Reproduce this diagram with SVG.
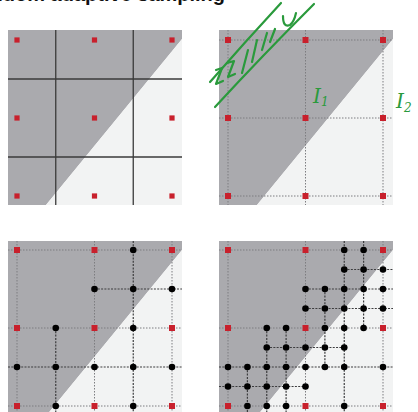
<svg xmlns="http://www.w3.org/2000/svg" xmlns:xlink="http://www.w3.org/1999/xlink" width="418" height="412" viewBox="0 0 418 412">
<defs>
<style>
.dark{fill:#aaaaae}
.light{fill:#f2f3f3}
.solid{stroke:#3a3a3a;stroke-width:1.3;fill:none}
.coarse{stroke:#7d7d80;stroke-width:1;stroke-dasharray:1.5 1.5;fill:none}
.fine{stroke:#3c3c3e;stroke-width:1.2;stroke-dasharray:2 1.3;fill:none}
.ink{stroke:#2a9a3c;stroke-width:2.2;stroke-linecap:round;stroke-linejoin:round;fill:none}
.hand{fill:#2a9a3c;font-family:"DejaVu Serif",serif;font-style:italic}
.title{font-family:"Liberation Sans",Arial,sans-serif;font-weight:bold;font-size:20px;fill:#111}
</style>
<rect id="rs" x="-3" y="-3" width="6" height="6" fill="#c8202c"/>
<rect id="rs5" x="-2.6" y="-2.6" width="5.2" height="5.2" fill="#c8202c"/>
<circle id="bd" r="3.3" fill="#000"/>
</defs>
<rect width="418" height="412" fill="#fff"/>

<text class="title" x="-35" y="0.5">Random adaptive sampling</text>

<!-- Panel 1 -->
<g id="panel1">
<polygon class="dark" points="8,30 182,30 182,39 46,205 8,205"/>
<polygon class="light" points="182,39 182,205 46,205"/>
<g id="p1-grid">
<line class="solid" x1="55.75" y1="30" x2="55.75" y2="205"/>
<line class="solid" x1="133.25" y1="30" x2="133.25" y2="205"/>
<line class="solid" x1="8" y1="79" x2="182" y2="79"/>
<line class="solid" x1="8" y1="157" x2="182" y2="157"/>
</g>
<g id="p1-samples">
<use href="#rs5" x="17" y="40"/><use href="#rs5" x="94.5" y="40"/><use href="#rs5" x="172" y="40"/>
<use href="#rs5" x="17" y="118"/><use href="#rs5" x="94.5" y="118"/><use href="#rs5" x="172" y="118"/>
<use href="#rs5" x="17" y="196"/><use href="#rs5" x="94.5" y="196"/><use href="#rs5" x="172" y="196"/>
</g>
</g>

<!-- Panel 2 -->
<g id="panel2">
<polygon class="dark" points="219,30 393,30 393,39 257,205 219,205"/>
<polygon class="light" points="393,39 393,205 257,205"/>
<g id="p2-grid">
<line class="coarse" x1="228" y1="30" x2="228" y2="205"/>
<line class="coarse" x1="305.5" y1="30" x2="305.5" y2="205"/>
<line class="coarse" x1="383" y1="30" x2="383" y2="205"/>
<line class="coarse" x1="219" y1="40" x2="393" y2="40"/>
<line class="coarse" x1="219" y1="118" x2="393" y2="118"/>
<line class="coarse" x1="219" y1="196" x2="393" y2="196"/>
</g>
<g id="p2-samples">
<use href="#rs" x="228" y="40"/><use href="#rs" x="305.5" y="40"/><use href="#rs" x="383" y="40"/>
<use href="#rs" x="228" y="118"/><use href="#rs" x="305.5" y="118"/><use href="#rs" x="383" y="118"/>
<use href="#rs" x="228" y="196"/><use href="#rs" x="305.5" y="196"/><use href="#rs" x="383" y="196"/>
</g>
<g id="p2-annotation">
<path class="ink" d="M210 82 Q245 42 281 3"/>
<path class="ink" d="M215 107 Q262 56 314 4"/>
<path class="ink" d="M216 70 L222 68 L216 84 L223 81"/>
<path class="ink" d="M227 63 L234 61 L228 77 L235 74"/>
<path class="ink" d="M248 50 L242 73"/>
<path class="ink" d="M257 40 L252 62"/>
<path class="ink" d="M267 33 L262 50"/>
<path class="ink" d="M275 29 L270 42"/>
<path class="ink" d="M283 16 Q283 28 290 25 Q294 22 296 13"/>
<text class="hand" x="313" y="103" font-size="20">I<tspan font-size="12" dy="3">1</tspan></text>
<text class="hand" x="396" y="108" font-size="20">I<tspan font-size="12" dy="4">2</tspan></text>
</g>
</g>

<!-- Panel 3 -->
<g id="panel3">
<polygon class="dark" points="8,241 182,241 182,250 46,416 8,416"/>
<polygon class="light" points="182,250 182,416 46,416"/>
<g id="p3-grid">
<line class="coarse" x1="17" y1="241" x2="17" y2="412"/>
<line class="coarse" x1="94.5" y1="241" x2="94.5" y2="412"/>
<line class="coarse" x1="172" y1="241" x2="172" y2="412"/>
<line class="coarse" x1="8" y1="250" x2="182" y2="250"/>
<line class="coarse" x1="8" y1="328" x2="182" y2="328"/>
<line class="coarse" x1="8" y1="406" x2="182" y2="406"/>
<line class="fine" x1="133.25" y1="241" x2="133.25" y2="412"/>
<line class="fine" x1="94.5" y1="289" x2="182" y2="289"/>
<line class="fine" x1="55.75" y1="328" x2="55.75" y2="412"/>
<line class="fine" x1="8" y1="367" x2="182" y2="367"/>
</g>
<g id="p3-samples">
<use href="#bd" x="133.25" y="250"/>
<use href="#bd" x="94.5" y="289"/><use href="#bd" x="133.25" y="289"/><use href="#bd" x="172" y="289"/>
<use href="#bd" x="55.75" y="328"/><use href="#bd" x="133.25" y="328"/>
<use href="#bd" x="17" y="367"/><use href="#bd" x="55.75" y="367"/><use href="#bd" x="94.5" y="367"/><use href="#bd" x="133.25" y="367"/><use href="#bd" x="172" y="367"/>
<use href="#bd" x="55.75" y="406"/><use href="#bd" x="133.25" y="406"/>
<use href="#rs" x="17" y="250"/><use href="#rs" x="94.5" y="250"/><use href="#rs" x="172" y="250"/>
<use href="#rs" x="17" y="328"/><use href="#rs" x="94.5" y="328"/><use href="#rs" x="172" y="328"/>
<use href="#rs" x="17" y="406"/><use href="#rs" x="94.5" y="406"/><use href="#rs" x="172" y="406"/>
</g>
</g>

<!-- Panel 4 -->
<g id="panel4">
<polygon class="dark" points="219,241 393,241 393,250 257,416 219,416"/>
<polygon class="light" points="393,250 393,416 257,416"/>
<g id="p4-grid">
<line class="coarse" x1="228" y1="241" x2="228" y2="412"/>
<line class="coarse" x1="305.5" y1="241" x2="305.5" y2="412"/>
<line class="coarse" x1="383" y1="241" x2="383" y2="412"/>
<line class="coarse" x1="219" y1="250" x2="393" y2="250"/>
<line class="coarse" x1="219" y1="328" x2="393" y2="328"/>
<line class="coarse" x1="219" y1="406" x2="393" y2="406"/>
<line class="fine" x1="344.25" y1="241" x2="344.25" y2="412"/>
<line class="fine" x1="305.5" y1="289" x2="393" y2="289"/>
<line class="fine" x1="266.75" y1="328" x2="266.75" y2="412"/>
<line class="fine" x1="219" y1="367" x2="393" y2="367"/>
<line class="fine" x1="363.6" y1="241" x2="363.6" y2="328"/>
<line class="fine" x1="344.25" y1="269.5" x2="393" y2="269.5"/>
<line class="fine" x1="324.9" y1="289" x2="324.9" y2="367"/>
<line class="fine" x1="305.5" y1="308.5" x2="393" y2="308.5"/>
<line class="fine" x1="286.1" y1="328" x2="286.1" y2="412"/>
<line class="fine" x1="266.75" y1="347.5" x2="344.25" y2="347.5"/>
<line class="fine" x1="247.4" y1="367" x2="247.4" y2="412"/>
<line class="fine" x1="219" y1="386.5" x2="305.5" y2="386.5"/>
</g>
<g id="p4-samples">
<use href="#bd" x="344.25" y="250"/><use href="#bd" x="363.6" y="250"/>
<use href="#bd" x="344.25" y="269.5"/><use href="#bd" x="363.6" y="269.5"/><use href="#bd" x="383" y="269.5"/>
<use href="#bd" x="305.5" y="289"/><use href="#bd" x="324.9" y="289"/><use href="#bd" x="344.25" y="289"/><use href="#bd" x="363.6" y="289"/><use href="#bd" x="383" y="289"/>
<use href="#bd" x="305.5" y="308.5"/><use href="#bd" x="324.9" y="308.5"/><use href="#bd" x="344.25" y="308.5"/><use href="#bd" x="363.6" y="308.5"/><use href="#bd" x="383" y="308.5"/>
<use href="#bd" x="266.75" y="328"/><use href="#bd" x="286.1" y="328"/><use href="#bd" x="324.9" y="328"/><use href="#bd" x="344.25" y="328"/><use href="#bd" x="363.6" y="328"/>
<use href="#bd" x="266.75" y="347.5"/><use href="#bd" x="286.1" y="347.5"/><use href="#bd" x="305.5" y="347.5"/><use href="#bd" x="324.9" y="347.5"/><use href="#bd" x="344.25" y="347.5"/>
<use href="#bd" x="228" y="367"/><use href="#bd" x="247.4" y="367"/><use href="#bd" x="266.75" y="367"/><use href="#bd" x="286.1" y="367"/><use href="#bd" x="305.5" y="367"/><use href="#bd" x="324.9" y="367"/><use href="#bd" x="344.25" y="367"/><use href="#bd" x="383" y="367"/>
<use href="#bd" x="228" y="386.5"/><use href="#bd" x="247.4" y="386.5"/><use href="#bd" x="266.75" y="386.5"/><use href="#bd" x="286.1" y="386.5"/><use href="#bd" x="305.5" y="386.5"/>
<use href="#bd" x="247.4" y="406"/><use href="#bd" x="266.75" y="406"/><use href="#bd" x="286.1" y="406"/><use href="#bd" x="344.25" y="406"/>
<use href="#rs" x="228" y="250"/><use href="#rs" x="305.5" y="250"/><use href="#rs" x="383" y="250"/>
<use href="#rs" x="228" y="328"/><use href="#rs" x="305.5" y="328"/><use href="#rs" x="383" y="328"/>
<use href="#rs" x="228" y="406"/><use href="#rs" x="305.5" y="406"/><use href="#rs" x="383" y="406"/>
</g>
</g>
</svg>
